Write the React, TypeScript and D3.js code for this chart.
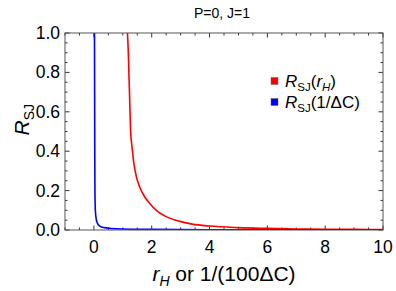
import React, { useEffect, useRef } from 'react';
import * as d3 from 'd3';

// red curve: R_SJ vs r_H
const redX = [1.16, 1.19, 1.21, 1.24, 1.27, 1.32, 1.38, 1.47, 1.58, 1.75, 1.93, 2.2, 2.5, 2.94, 3.4, 4, 5, 6, 7, 8, 9, 10];
const redY = [1.0, 0.9, 0.8, 0.65, 0.5, 0.42, 0.34, 0.27, 0.22, 0.17, 0.135, 0.095, 0.068, 0.045, 0.03, 0.02, 0.012, 0.008, 0.005, 0.004, 0.003, 0.002];

// blue curve: R_SJ vs 1/(100 dC)
const blueX = [0.02, 0.025, 0.03, 0.035, 0.05, 0.08, 0.12, 0.2, 0.35, 0.6, 1.0, 2, 4, 6, 10];
const blueY = [1.0, 0.7, 0.4, 0.2, 0.1, 0.055, 0.035, 0.02, 0.012, 0.008, 0.005, 0.003, 0.0015, 0.001, 0.0005];

const xTicks = [0, 2, 4, 6, 8, 10];
const yTicks = [0.0, 0.2, 0.4, 0.6, 0.8, 1.0];

const W = 396;
const H = 291;

export default function App() {
  const svgRef = useRef<SVGSVGElement>(null);

  useEffect(() => {
    const svg = d3.select(svgRef.current);
    svg.selectAll('*').remove();

    const margin = { top: 33, right: 13, bottom: 61, left: 65 };
    const x = d3.scaleLinear().domain([-1, 10]).range([margin.left, W - margin.right]);
    const y = d3.scaleLinear().domain([0, 1]).range([H - margin.bottom, margin.top]);
    const font = 'Liberation Sans, Arial, sans-serif';

    svg.append('defs').append('clipPath').attr('id', 'plotclip')
      .append('rect')
      .attr('x', x(-1)).attr('y', y(1))
      .attr('width', x(10) - x(-1)).attr('height', y(0) - y(1));

    // ticks
    const minorX = d3.range(-1, 10.01, 0.5);
    const minorY = d3.range(0, 1.001, 0.05);
    const tk = svg.append('g').attr('stroke', '#333').attr('stroke-width', 1);
    minorX.forEach(v => {
      const major = Math.abs(v % 2) < 1e-6;
      const len = major ? 4.5 : 2.5;
      tk.append('line').attr('x1', x(v)).attr('x2', x(v)).attr('y1', y(0)).attr('y2', y(0) - len);
      tk.append('line').attr('x1', x(v)).attr('x2', x(v)).attr('y1', y(1)).attr('y2', y(1) + len);
    });
    minorY.forEach(v => {
      const major = Math.abs(Math.round(v * 100) % 20) < 1e-6;
      const len = major ? 4.5 : 2.5;
      tk.append('line').attr('y1', y(v)).attr('y2', y(v)).attr('x1', x(-1)).attr('x2', x(-1) + len);
      tk.append('line').attr('y1', y(v)).attr('y2', y(v)).attr('x1', x(10)).attr('x2', x(10) - len);
    });

    // curves
    const line = d3.line<[number, number]>()
      .x(d => x(d[0])).y(d => y(d[1]))
      .curve(d3.curveMonotoneX);
    const plot = svg.append('g').attr('clip-path', 'url(#plotclip)');
    plot.append('path')
      .attr('d', line(redX.map((v, i) => [v, redY[i]] as [number, number])))
      .attr('fill', 'none').attr('stroke', '#ff0000').attr('stroke-width', 1.6);
    plot.append('path')
      .attr('d', line(blueX.map((v, i) => [v, blueY[i]] as [number, number])))
      .attr('fill', 'none').attr('stroke', '#0000ff').attr('stroke-width', 1.6);

    // frame
    svg.append('rect')
      .attr('x', x(-1)).attr('y', y(1))
      .attr('width', x(10) - x(-1)).attr('height', y(0) - y(1))
      .attr('fill', 'none').attr('stroke', '#555').attr('stroke-width', 1);

    // tick labels
    svg.append('g').selectAll('text').data(xTicks).join('text')
      .attr('x', d => x(d)).attr('y', y(0) + 23)
      .attr('text-anchor', 'middle')
      .attr('font-family', font).attr('font-size', 17.5)
      .text(d => String(d));
    svg.append('g').selectAll('text').data(yTicks).join('text')
      .attr('x', x(-1) - 5).attr('y', d => y(d) + 6)
      .attr('text-anchor', 'end')
      .attr('font-family', font).attr('font-size', 17.5)
      .text(d => d.toFixed(1));

    // title
    svg.append('text')
      .attr('x', 222).attr('y', 18)
      .attr('text-anchor', 'middle')
      .attr('font-family', font).attr('font-size', 14)
      .text('P=0, J=1');

    // x axis label
    const xl = svg.append('text')
      .attr('x', x(4.5)).attr('y', 281)
      .attr('text-anchor', 'middle')
      .attr('font-family', font).attr('font-size', 21);
    xl.append('tspan').attr('font-style', 'italic').text('r');
    xl.append('tspan').attr('font-style', 'italic').attr('font-size', 14).attr('dy', 5).text('H');
    xl.append('tspan').attr('dy', -5).text(' or 1/(100ΔC)');

    // y axis label
    const yl = svg.append('text')
      .attr('transform', `translate(29,${y(0.56)}) rotate(-90)`)
      .attr('text-anchor', 'middle')
      .attr('font-family', font).attr('font-size', 21);
    yl.append('tspan').attr('font-style', 'italic').text('R');
    yl.append('tspan').attr('font-size', 14).attr('dy', 4.5).text('SJ');

    // legend
    const legend = [
      { color: '#ff0000', arg: 'H' },
      { color: '#0000ff', arg: null },
    ];
    legend.forEach((l, i) => {
      const ly = 81 + i * 21;
      svg.append('rect')
        .attr('x', 271).attr('y', ly - 3.5)
        .attr('width', 7).attr('height', 7)
        .attr('fill', l.color).attr('stroke', '#555').attr('stroke-width', 0.4);
      const t = svg.append('text')
        .attr('x', 285).attr('y', ly + 6)
        .attr('font-family', font).attr('font-size', 17);
      t.append('tspan').attr('font-style', 'italic').text('R');
      t.append('tspan').attr('font-size', 11.5).attr('dy', 3.5).text('SJ');
      if (l.arg) {
        t.append('tspan').attr('dy', -3.5).text('(');
        t.append('tspan').attr('font-style', 'italic').text('r');
        t.append('tspan').attr('font-style', 'italic').attr('font-size', 11.5).attr('dy', 3.5).text('H');
        t.append('tspan').attr('dy', -3.5).text(')');
      } else {
        t.append('tspan').attr('dy', -3.5).text('(1/ΔC)');
      }
    });
  }, []);

  return (
    <svg
      ref={svgRef}
      width={W}
      height={H}
      style={{ position: 'absolute', left: 0, top: 0, background: '#fff' }}
    />
  );
}
